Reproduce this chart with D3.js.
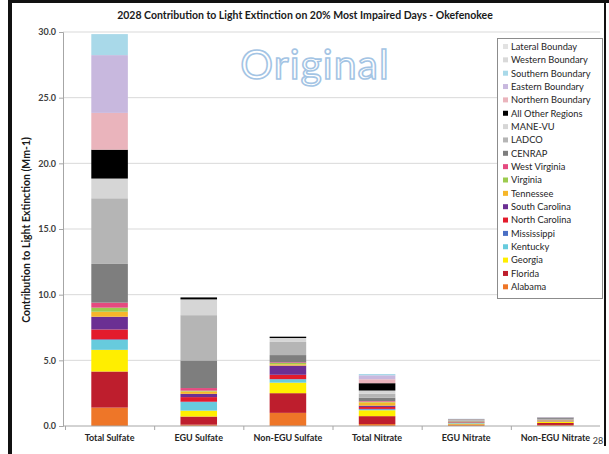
<!DOCTYPE html>
<html><head><meta charset="utf-8">
<script src="https://cdn.jsdelivr.net/npm/d3@7"></script>
<style>
html,body{margin:0;padding:0;background:#fff;}
svg{display:block;}
</style></head>
<body>
<script>
const categories = ["Total Sulfate","EGU Sulfate","Non-EGU Sulfate","Total Nitrate","EGU Nitrate","Non-EGU Nitrate"];
const seriesNames = ["Alabama","Florida","Georgia","Kentucky","Mississippi","North Carolina","South Carolina","Tennessee","Virginia","West Virginia","CENRAP","LADCO","MANE-VU","All Other Regions","Northern Boundary","Eastern Boundary","Southern Boundary","Western Boundary","Lateral Bounday"];
const alabama       = [1.40, 0.10, 1.00, 0.15, 0.08, 0.08];
const florida       = [2.75, 0.62, 1.50, 0.60, 0.04, 0.15];
const georgia       = [1.65, 0.45, 0.80, 0.45, 0.06, 0.10];
const kentucky      = [0.75, 0.65, 0.25, 0.05, 0.04, 0.02];
const mississippi   = [0.05, 0.03, 0.02, 0.05, 0.01, 0.01];
const northCarolina = [0.75, 0.35, 0.33, 0.15, 0.03, 0.03];
const southCarolina = [0.97, 0.25, 0.70, 0.10, 0.03, 0.03];
const tennessee     = [0.38, 0.18, 0.10, 0.25, 0.04, 0.03];
const virginia      = [0.31, 0.06, 0.10, 0.05, 0.01, 0.01];
const westVirginia  = [0.38, 0.20, 0.05, 0.05, 0.01, 0.01];
const cenrap        = [2.95, 2.10, 0.55, 0.25, 0.06, 0.04];
const ladco         = [5.00, 3.45, 1.00, 0.30, 0.06, 0.04];
const maneVu        = [1.50, 1.20, 0.30, 0.25, 0.03, 0.03];
const allOther      = [2.20, 0.15, 0.10, 0.56, 0.02, 0.05];
const northern      = [2.80, 0.00, 0.00, 0.30, 0.01, 0.02];
const eastern       = [4.40, 0.00, 0.00, 0.30, 0.01, 0.02];
const southern      = [1.60, 0.00, 0.00, 0.10, 0.01, 0.01];
const western       = [0.00, 0.00, 0.00, 0.00, 0.00, 0.00];
const lateral       = [0.00, 0.00, 0.00, 0.00, 0.00, 0.00];
const yTickValues = [0,5,10,15,20,25,30];
const seriesColors = ["#EE7628","#BE1E2D","#FFEE00","#67CBDD","#4A6FC4","#E31B2C","#6B2F93","#F6B629","#9CCB4E","#E54A80","#7E7E7E","#B5B5B5","#D6D6D6","#000000","#EAB4BC","#C8B8DE","#A9D9E9","#D9D9D9","#E2E2E2"];

const seriesValues = [alabama,florida,georgia,kentucky,mississippi,northCarolina,southCarolina,tennessee,virginia,westVirginia,cenrap,ladco,maneVu,allOther,northern,eastern,southern,western,lateral];

const W=609,H=454;
const svg=d3.select("body").append("svg").attr("width",W).attr("height",H);
svg.append("rect").attr("width",W).attr("height",H).attr("fill","#fff");

// frame
svg.append("rect").attr("x",8).attr("y",0).attr("width",4).attr("height",H).attr("fill","#111");
svg.append("rect").attr("x",8).attr("y",0).attr("width",W-8).attr("height",3).attr("fill","#111");
svg.append("rect").attr("x",604).attr("y",0).attr("width",2).attr("height",446).attr("fill","#111");

const x=d3.scaleBand().domain(categories).range([65,600]).paddingInner(0.59).paddingOuter(0.295);
const y=d3.scaleLinear().domain([0,30]).range([426,32]);
const color=d3.scaleOrdinal().domain(seriesNames).range(seriesColors);

// gridlines
svg.append("g").selectAll("line").data(yTickValues.slice(1)).join("line")
  .attr("x1",63).attr("x2",600).attr("y1",d=>y(d)).attr("y2",d=>y(d))
  .attr("stroke","#d9d9d9").attr("stroke-width",1);

// watermark
svg.append("text").attr("x",315).attr("y",79).attr("text-anchor","middle")
  .attr("font-family","Lato, 'Open Sans', sans-serif").attr("font-size",41)
  .attr("fill","#ffffff").attr("stroke","#a3c4e4").attr("stroke-width",1.6)
  .attr("letter-spacing",1).text("Original");

// stacked bars
const table=categories.map((c,i)=>{const o={cat:c};seriesNames.forEach((s,j)=>o[s]=seriesValues[j][i]);return o;});
const stacked=d3.stack().keys(seriesNames)(table);
svg.append("g").selectAll("g").data(stacked).join("g").attr("fill",d=>color(d.key))
  .selectAll("rect").data(d=>d).join("rect")
  .attr("x",d=>x(d.data.cat)).attr("width",x.bandwidth())
  .attr("y",d=>y(d[1])).attr("height",d=>Math.max(0,y(d[0])-y(d[1])));

// axes
const yAxis=svg.append("g").attr("transform","translate(63,0)")
  .call(d3.axisLeft(y).tickValues(yTickValues).tickFormat(d3.format(".1f")).tickSize(4).tickPadding(3));
yAxis.select(".domain").attr("stroke","#a6a6a6");
yAxis.selectAll(".tick line").attr("stroke","#a6a6a6");
yAxis.selectAll("text").attr("font-family","Lato, sans-serif").attr("font-size",9).attr("font-weight","bold").attr("fill","#404040");

const xAxis=svg.append("g").attr("transform","translate(0,426)")
  .call(d3.axisBottom(x).tickSize(0).tickPadding(9));
xAxis.select(".domain").attr("stroke","#a6a6a6").attr("d","M63,0H600");
xAxis.selectAll("text").attr("font-family","Lato, sans-serif").attr("font-size",9).attr("font-weight","bold").attr("fill","#262626");
// category separators
const step=x.step();
svg.append("g").selectAll("line").data(categories).join("line")
  .attr("x1",d=>x(d)-x.paddingInner()*step/2+0.5).attr("x2",d=>x(d)-x.paddingInner()*step/2+0.5)
  .attr("y1",426).attr("y2",430).attr("stroke","#a6a6a6");

// title
svg.append("text").attr("x",305).attr("y",19).attr("text-anchor","middle")
  .attr("font-family","Lato, sans-serif").attr("font-size",10.5).attr("font-weight","bold").attr("fill","#1a1a1a")
  .text("2028 Contribution to Light Extinction on 20% Most Impaired Days - Okefenokee");

// y label
svg.append("text").attr("transform","translate(30,230) rotate(-90)").attr("text-anchor","middle")
  .attr("font-family","Lato, sans-serif").attr("font-size",10.5).attr("font-weight","bold").attr("fill","#1a1a1a")
  .text("Contribution to Light Extinction (Mm-1)");

// legend
const legendOrder=seriesNames.slice().reverse();
const lg=svg.append("g");
lg.append("rect").attr("x",497.5).attr("y",38.5).attr("width",105).attr("height",260)
  .attr("fill","#fff").attr("stroke","#8c8c8c");
const items=lg.selectAll("g").data(legendOrder).join("g")
  .attr("transform",(d,i)=>`translate(503,${47+i*13.35})`);
items.append("rect").attr("x",0).attr("y",-3).attr("width",5).attr("height",5).attr("fill",d=>color(d));
items.append("text").attr("x",8).attr("y",2.8).attr("font-family","Lato, sans-serif").attr("font-size",9.3)
  .attr("fill","#262626").text(d=>d);

// page number
svg.append("text").attr("x",598).attr("y",444).attr("text-anchor","middle")
  .attr("font-family","Lato, sans-serif").attr("font-size",9).attr("fill","#333").text("28");
</script>
</body></html>
